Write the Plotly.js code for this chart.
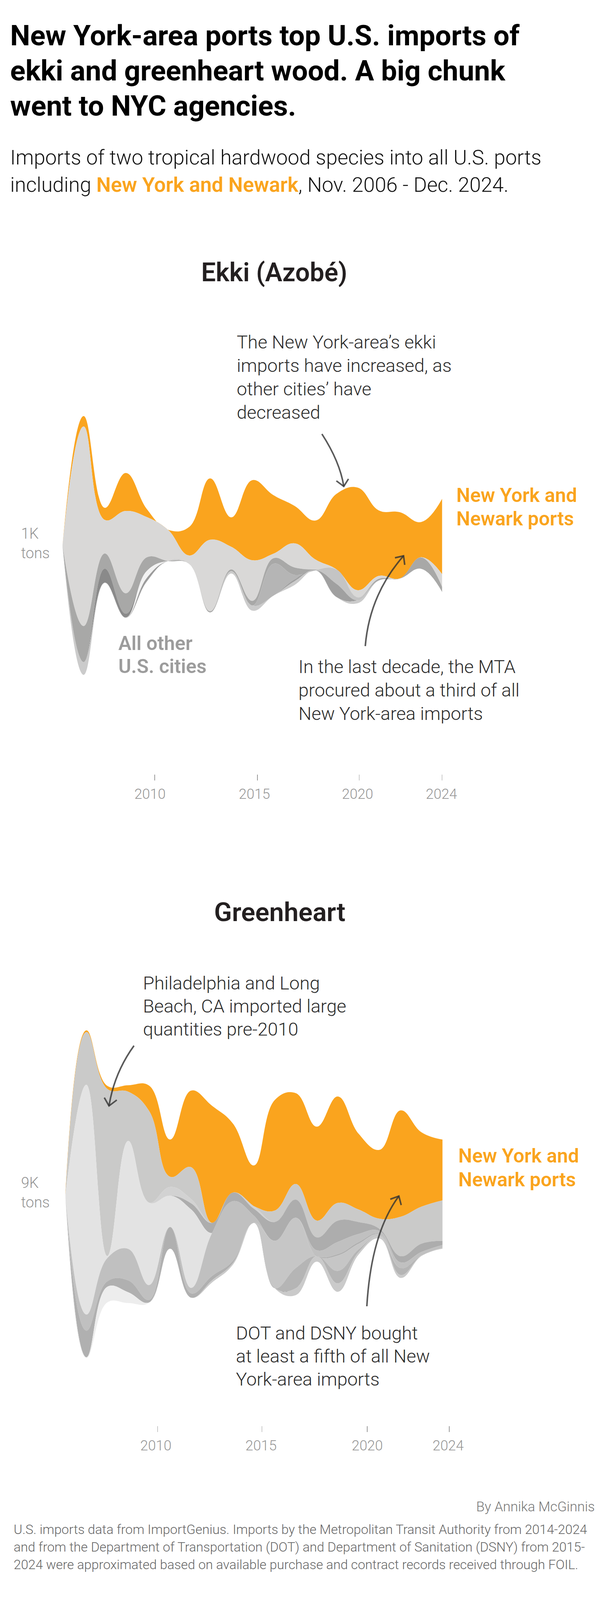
<!DOCTYPE html>
<html><head><meta charset="utf-8">
<script src="https://cdn.plot.ly/plotly-3.0.1.min.js"></script>
<style>html,body{margin:0;padding:0;background:#fff}#c{width:1564px;height:4117px}</style>
</head><body><div id="c"></div>
<script>
// Stream thickness per year (chart units; 1 unit = one pixel of stream height)
const years = [2006,2007,2008,2009,2010,2011,2012,2013,2014,2015,2016,2017,2018,2019,2020,2021,2022,2023,2024];

const ekkiNY   = [0.3,26.8,30.8,97.3,20.5,0.3,72.8,157,75.4,205,150,96,100,194,262.7,167.7,169.3,90,192.7];
const ekkiA    = [1.2,511,86.2,210.7,103,80,21.4,183,58,104,11.7,61.7,25.7,0.3,18.3,7.3,0.3,0.5,32.7];
const ekkiB    = [0.6,92.4,38.8,52.2,34.8,0.3,0,3,4.5,11.7,14,19,1.7,0,0,4.3,0.3,29,13];
const ekkiC    = [0,0,0,0,0,0,0,0,0,0,81.7,11.7,0,0,0,0,0,0,0];
const ekkiD    = [0,0,0,0,0,0,0,0,0,0,0,0,0,36.7,7.3,0,0,0,0];
const ekkiE    = [0,0,0,0,0,0,0,0,0,0,0,5,0,33.7,0,0,0,0,0];
const ekkiF    = [0,0,35.7,9.8,0,0,0,0,0,0,0,0,0,0,0,0,0,0,0];
const ekkiG    = [0,0,0,0,17.9,0,0,0,0,0,0,0,0,0,0,0,0,0,0];
const ekkiH    = [0,0,0,0,8.9,0,0,0,0,0,0,0,0,0,0,0,0,0,0];
const ekkiI    = [0.6,32.6,1,1,1,0,0,0,5.8,13.3,0,9.3,0,0,7.7,0,0,0,0];
const ekkiColors = ['#faa41e','#d9d8d7','#a8a8a7','#b5b5b5','#c4c4c4','#a0a0a0','#8a8a8a','#f2f2f2','#9b9b9b','#cbcbcb'];

const greenNY  = [7,4.4,7.8,16.6,64.9,95.4,195.9,299.7,176.5,104.3,283.2,232.5,240.4,272.5,193.9,176.4,272.5,190.4,155.7];
const greenA   = [0.5,134.9,427.9,126,234.7,26.1,81.6,0,0,0,29.3,40,42.9,45.4,32.1,26.1,100.7,94.6,103.6];
const greenB   = [0,0,0,0,0,22.2,11.1,0,0,6.4,0,0,0,0,0,0,0,0,0];
const greenC   = [0,0,0,0,0,0,15.5,26.1,22.2,17.9,48.2,46.4,33.2,54.6,30.4,5.4,16.1,21.4,10.7];
const greenD   = [0.5,588.2,5.5,276.4,210.9,80.5,200.9,0,0,0,0,0,0,0,0,0,0,0,0];
const greenE   = [0.5,41.1,59.4,80.5,37.7,0,13.9,109.9,152.6,18.2,0,0,13.2,31.1,20.7,7.1,14.3,8.9,7.1];
const greenF   = [0,68.3,13.9,30.5,6.7,55.5,11.1,11.1,5.5,0,0,0,1.8,3.6,4.3,1.8,0,0,0];
const greenG   = [0,0,0,0,0,0,0,0,0,0,121.4,128.6,0,39.3,14.3,5.4,0,0,0];
const greenH   = [0,0,0,0,0,0,0,0,0,0,0,51.8,0,32.1,7.1,0,17.9,0,0];
const greenI   = [0,0,0,0,0,0,0,5.5,4.4,0,0.4,17.5,13.9,21.4,6.1,4.6,7.5,1.4,2.5];
const greenJ   = [0,1.6,40,27.7,0.5,0,0,0,0,0,0,0,0,0,0,0,0,0,0];
const greenColors = ['#faa41e','#cacac9','#d2d2d2','#adadad','#e3e3e3','#c0c0c0','#b0b0b0','#c6c6c6','#b5b5b5','#cacaca','#ededed'];

const tickLabels = ['2010','2015','2020','2024'];
const ekkiTicks  = [2010.37,2015.24,2020.07,2024];
const ekkiLabelX = [2010.15,2015.10,2019.99,2023.97];
const greenTicks = [2010.40,2015.38,2020.41,2024.32];
const greenLabelX= [2010.32,2015.34,2020.41,2024.27];

const W=1564,H=4117;
const px=x=>x/W, py=y=>1-y/H;
const SMOOTH=1.2;

function stream(layers,colors,xa,ya){
  const traces=[];
  const total=years.map((_,i)=>layers.reduce((s,l)=>s+l[i],0));
  let cur=total.map(t=>t/2);
  traces.push({x:years,y:cur.slice(),xaxis:xa,yaxis:ya,mode:'lines',line:{width:0,shape:'spline',smoothing:SMOOTH,color:colors[0]},hoverinfo:'skip',showlegend:false});
  layers.forEach((l,k)=>{
    cur=cur.map((v,i)=>v-l[i]);
    traces.push({x:years,y:cur.slice(),xaxis:xa,yaxis:ya,mode:'lines',fill:'tonexty',fillcolor:colors[k],line:{width:0,shape:'spline',smoothing:SMOOTH,color:colors[k]},hoverinfo:'skip',showlegend:false});
  });
  return traces;
}
const data=[
 ...stream([ekkiNY,ekkiA,ekkiB,ekkiC,ekkiD,ekkiE,ekkiF,ekkiG,ekkiH,ekkiI],ekkiColors,'x','y'),
 ...stream([greenNY,greenA,greenB,greenC,greenD,greenE,greenF,greenG,greenH,greenI,greenJ],greenColors,'x2','y2')
];

const SANS='Roboto, sans-serif';
const notes=[];
function txt(x,base,text,size,color,weight,anchor){
  notes.push({xref:'paper',yref:'paper',x:px(x),y:py(base-0.3*size),text:text,showarrow:false,
    xanchor:anchor||'left',yanchor:'middle',align:anchor||'left',borderpad:0,
    font:{family:SANS,size:size,color:color,weight:weight}});
}
function block(x,base,step,lines,size,color,weight){lines.forEach((t,i)=>txt(x,base+i*step,t,size,color,weight));}
const ORANGE='#faa41e',INK='#231f20';
block(25,113,90,['New York-area ports top U.S. imports of','ekki and greenheart wood. A big chunk','went to NYC agencies.'],72.5,'#000',700);
block(25,419,70,['Imports of two tropical hardwood species into all U.S. ports',
  'including <span style="color:'+ORANGE+';font-weight:600">New York and Newark</span>, Nov. 2006 - Dec. 2024.'],52.6,'#111',300);
txt(702,717,'Ekki (Azobé)',66,INK,600,'center');
txt(716,2355,'Greenheart',67,INK,600,'center');
block(605,890,60,['The New York-area’s ekki','imports have increased, as','other cities’ have','decreased'],47,'#2b2b2b',300);
block(763,1721,60,['In the last decade, the MTA','procured about a third of all','New York-area imports'],47,'#2b2b2b',300);
block(1167,1283,60,['New York and','Newark ports'],50,ORANGE,600);
block(302,1662,59,['All other','U.S. cities'],50,'#9c9c9c',600);
block(53,1377,50,['1K','tons'],38,'#939393',300);
block(53,3039,50,['9K','tons'],38,'#939393',300);
block(365,2531,59,['Philadelphia and Long','Beach, CA imported large','quantities pre-2010'],47,'#2b2b2b',300);
block(603,3427,59,['DOT and DSNY bought','at least a fifth of all New','York-area imports'],47,'#2b2b2b',300);
block(1172,2974,61,['New York and','Newark ports'],50,ORANGE,600);
txt(1524,3868,'By Annika McGinnis',35,'#777',300,'right');
block(34,3926,45,['U.S. imports data from ImportGenius. Imports by the Metropolitan Transit Authority from 2014-2024',
 'and from the Department of Transportation (DOT) and Department of Sanitation (DSNY) from 2015-',
 '2024 were approximated based on available purchase and contract records received through FOIL.'],33.7,'#666',300);

// Arrows, in page pixels converted to paper coordinates
const P=(x,y)=>px(x)+' '+py(y);
function arrow(p0,c,tip,a1,a2){
  return [{type:'path',xref:'paper',yref:'paper',path:'M '+P(...p0)+' Q '+P(...c)+' '+P(...tip),line:{color:'#333',width:4},opacity:0.8,fillcolor:'rgba(0,0,0,0)'},
          {type:'path',xref:'paper',yref:'paper',path:'M '+P(...a1)+' L '+P(...tip)+' L '+P(...a2),line:{color:'#333',width:4},opacity:0.8,fillcolor:'rgba(0,0,0,0)'}];
}
const shapes=[
 ...arrow([824,1111],[870,1182],[880,1245],[861,1231],[892,1226]),
 ...arrow([935,1654],[946,1522],[1033,1423],[1011,1428],[1036,1446]),
 ...arrow([343,2677],[293,2746],[279,2831],[267,2810],[299,2816]),
 ...arrow([939,3344],[950,3158],[1021,3062],[999,3070],[1027,3085]),
 {type:'path',xref:'paper',yref:'paper',path:'M '+P(721,3300)+' L '+P(728,3310)+' L '+P(736,3306),line:{color:'#333',width:4},opacity:0.8,layer:'below'}
];

// Year labels sit on the major ticks, the short tick marks are minor ticks (they are offset in the original)
function xAxis(x0,pxPerYear,labelVals,markVals,posY){
  return {domain:[px(x0),px(x0+1000)],range:[2006,2006+1000/pxPerYear],anchor:'free',position:py(posY),
    tickmode:'array',tickvals:labelVals,ticktext:tickLabels,ticks:'',
    minor:{tickmode:'array',tickvals:markVals,ticks:'outside',ticklen:15,tickwidth:1.5,tickcolor:'#999',showgrid:false},
    showgrid:false,zeroline:false,showline:false,fixedrange:true,
    tickfont:{family:SANS,size:36,color:'#969696',weight:300},ticklabelstandoff:26};
}
function yAxis(c,half,xa){
  return {domain:[py(c+half),py(c-half)],range:[-half,half],anchor:xa,visible:false,fixedrange:true,showgrid:false,zeroline:false};
}
const layout={width:W,height:H,margin:{l:0,r:0,t:0,b:0},paper_bgcolor:'#fff',plot_bgcolor:'rgba(0,0,0,0)',showlegend:false,
 xaxis:xAxis(160,53.98,ekkiLabelX,ekkiTicks,1982),
 yaxis:yAxis(1396.3,420,'x'),
 xaxis2:xAxis(167.3,53.63,greenLabelX,greenTicks,3650),
 yaxis2:yAxis(3057,440,'x2'),
 annotations:notes,shapes:shapes};
Plotly.newPlot('c',data,layout,{staticPlot:true,displayModeBar:false});
</script></body></html>
